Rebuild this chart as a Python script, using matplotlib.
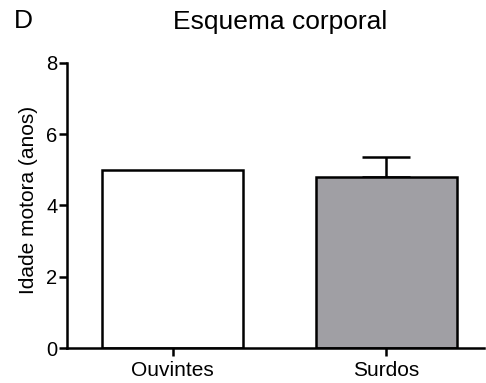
import matplotlib
matplotlib.use("Agg")
import matplotlib.pyplot as plt

plt.rcParams['font.family'] = ['Liberation Sans', 'DejaVu Sans']

groups = ['Ouvintes', 'Surdos']
means = [5.0, 4.8]
sem = [None, 0.57]   # Ouvintes has no error bar drawn
colors = ['white', '#a09fa4']

fig = plt.figure(figsize=(4.86, 3.83), dpi=100)
ax = fig.add_axes([0.138, 0.091, 0.858, 0.745])

x = list(range(len(groups)))
ax.bar(x, means, width=0.66, color=colors, edgecolor='black', linewidth=1.8, zorder=2)
# only the upper half of the error bar, like Prism
for xi, m, e in zip(x, means, sem):
    if e is None:
        continue
    ax.errorbar([xi], [m], yerr=[[0], [e]], fmt='none', ecolor='black',
                elinewidth=1.8, capsize=17, capthick=1.8, zorder=1)

ax.set_ylim(0, 8)
ax.set_xlim(-0.493, 1.456)
ax.set_yticks([0, 2, 4, 6, 8])
ax.set_xticks(x)
ax.set_xticklabels(groups)
ax.tick_params(axis='both', width=1.8, length=6, direction='out')
ax.tick_params(axis='y', labelsize=14.5, pad=1)
ax.tick_params(axis='x', labelsize=15, pad=3)
ax.set_ylabel('Idade motora (anos)', fontsize=15)
ax.yaxis.set_label_coords(-0.07, 0.52)
for s in ['top', 'right']:
    ax.spines[s].set_visible(False)
for s in ['left', 'bottom']:
    ax.spines[s].set_linewidth(1.8)

fig.text(0.576, 0.942, 'Esquema corporal', ha='center', va='center', fontsize=19)
fig.text(0.028, 0.945, 'D', ha='left', va='center', fontsize=19)

fig.savefig('out.png', dpi=100)
